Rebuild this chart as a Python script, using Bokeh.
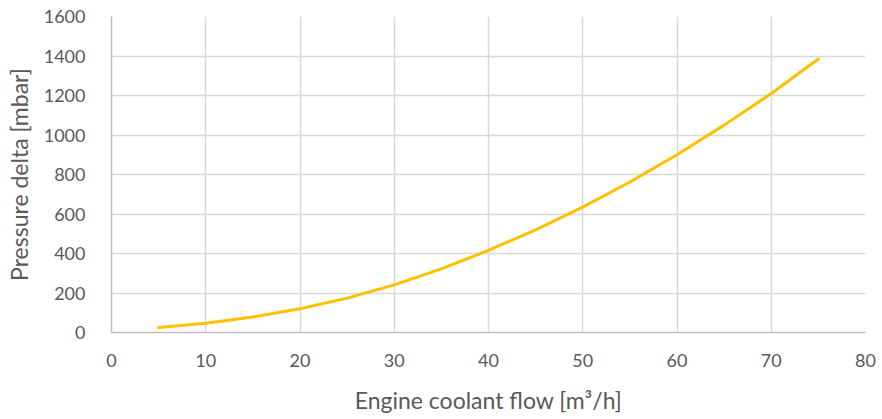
from bokeh.plotting import figure
from bokeh.models import FixedTicker, Range1d
from bokeh.embed import file_html
from bokeh.resources import INLINE

flow = [5, 10, 15, 20, 25, 30, 35, 40, 45, 50, 55, 60, 65, 70, 75]
pressure = [25, 47, 79, 120, 174, 241, 322, 416, 520, 635, 762, 900, 1050, 1210, 1385]
x_ticks = [0, 10, 20, 30, 40, 50, 60, 70, 80]
y_ticks = [0, 200, 400, 600, 800, 1000, 1200, 1400, 1600]

p = figure(width=882, height=419, output_backend="svg", toolbar_location=None,
           x_range=Range1d(0, 80), y_range=Range1d(0, 1600),
           min_border_left=111, min_border_right=17, min_border_top=16, min_border_bottom=87)
p.line(flow, pressure, line_color="#FFC000", line_width=3, line_join="round", line_cap="round")

font = "Lato"
grey = "#595959"
for ax in (p.xaxis[0], p.yaxis[0]):
    ax.axis_line_color = "#BFBFBF"
    ax.axis_line_width = 1.5
    ax.major_tick_line_color = None
    ax.minor_tick_line_color = None
    ax.major_label_text_font = font
    ax.major_label_text_font_size = "18px"
    ax.major_label_text_color = grey
    ax.axis_label_text_font = font
    ax.axis_label_text_font_style = "normal"
    ax.axis_label_text_color = grey
    ax.axis_label_text_font_size = "23px"

p.xaxis.ticker = FixedTicker(ticks=x_ticks)
p.yaxis.ticker = FixedTicker(ticks=y_ticks)
p.xaxis.axis_label = "Engine coolant flow [m³/h]"
p.yaxis.axis_label = "Pressure delta [mbar]"
p.xaxis.major_label_standoff = 15
p.yaxis.major_label_standoff = 20
p.xaxis.axis_label_standoff = 16
p.yaxis.axis_label_standoff = 8

p.xgrid.grid_line_color = "#D9D9D9"
p.ygrid.grid_line_color = "#D9D9D9"
p.xgrid.grid_line_width = 1.5
p.ygrid.grid_line_width = 1.5
p.outline_line_color = None
p.background_fill_color = "white"
p.border_fill_color = "white"

open("out.html", "w").write(file_html(p, INLINE))
